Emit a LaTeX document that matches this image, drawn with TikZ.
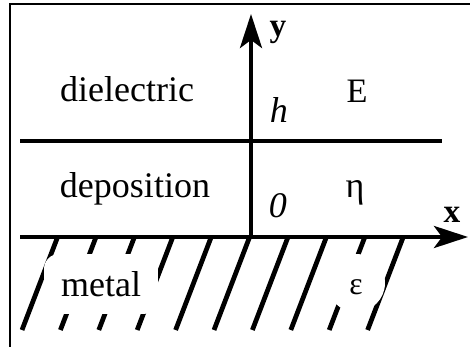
\documentclass[tikz,border=0pt]{standalone}
\usepackage{fontspec}
\setmainfont{Liberation Serif}
\usetikzlibrary{arrows.meta,calc,positioning}

\begin{document}
\begin{tikzpicture}[x=0.02cm, y=-0.02cm,
  txt/.style={font=\fontsize{20.5}{24}\selectfont},
  small/.style={font=\fontsize{18}{21}\selectfont},
  lbl/.style={txt, anchor=base, inner sep=0pt},
  axisline/.style={line width=0.08cm, -{Stealth[length=6.8mm, width=4.4mm, inset=1.6mm]}},
  layerline/.style={line width=0.08cm},
  hatchline/.style={line width=0.095cm}]
\useasboundingbox (0,0) rectangle (470,347);
% frame
\draw[line width=0.04cm] (10,350) -- (10,4) -- (475,4);
% metal hatching
\foreach \i in {0,...,9}
  \draw[hatchline] ({58+38.4*\i},236) -- ++(-36,94);
\node[txt, fill=white, rounded corners=0.3cm, minimum width=2.28cm, minimum height=1.2cm] (metal) at (101,284) {metal};
\node[small, circle, fill=white, minimum size=1.16cm, inner sep=0pt, text height=0.46cm, text depth=0cm] (eps) at (356,283) {ε};
% axes and interface
\coordinate (O) at (251,237);
\draw[axisline] (20,237) -- (468,237);
\draw[axisline] (O) -- (251,14);
\draw[layerline] (20,141) -- (442,141);
% labels
\node[lbl] (diel) at (127,102) {dielectric};
\node[lbl] (depo) at (135,198) {deposition};
\node[lbl] (hlab) at (279,123) {\textit{h}};
\node[lbl] (zero) at (278,218) {\textit{0}};
\node[lbl, font=\fontsize{19.5}{23}\selectfont] (Elab) at (357,103) {E};
\node[lbl] (eta) at (355,198) {η};
\node[lbl, font=\fontsize{19}{22}\selectfont] (ylab) at (278,37) {\textbf{y}};
\node[lbl, font=\fontsize{19}{22}\selectfont] (xlab) at (452,223) {\textbf{x}};
\end{tikzpicture}
\end{document}
